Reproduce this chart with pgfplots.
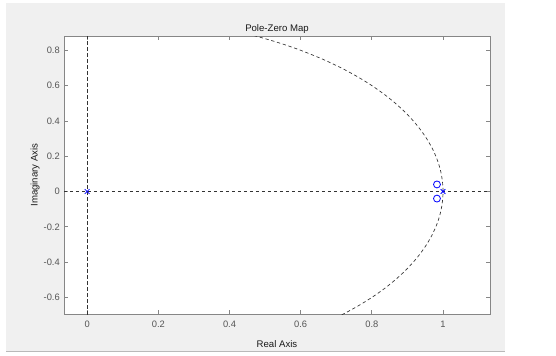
\documentclass[border=0pt]{standalone}
\usepackage{fontspec}
\setmainfont{Liberation Sans}
\usepackage{pgfplots}
\pgfplotsset{compat=1.18}
\definecolor{figbg}{RGB}{240,240,240}
\definecolor{axgray}{RGB}{134,134,134}
\definecolor{ticktext}{RGB}{85,85,85}
\definecolor{mblue}{RGB}{0,0,255}
\begin{document}
\begin{tikzpicture}
\begin{scope}[x=0.75pt,y=0.75pt]
\fill[white] (0,0) rectangle (556,355);
\fill[figbg] (6,3) rectangle (505,352);
\draw[gray!55, line width=0.6pt] (6,3.4)--(505,3.4);
\end{scope}
\begin{axis}[
  at={(48pt,30.75pt)}, anchor=south west,
  scale only axis, width=319.5pt, height=208.5pt,
  xmin=-0.065, xmax=1.132, ymin=-0.694, ymax=0.881,
  axis background/.style={fill=white},
  axis line style={axgray, line width=0.6pt},
  tick style={axgray, line width=0.6pt},
  major tick length=3pt,
  tick align=inside,
  xtick={0,0.2,0.4,0.6,0.8,1},
  xticklabels={0,0.2,0.4,0.6,0.8,1},
  ytick={-0.6,-0.4,-0.2,0,0.2,0.4,0.6,0.8},
  yticklabels={-0.6,-0.4,-0.2,0,0.2,0.4,0.6,0.8},
  ticklabel style={font=\fontsize{7}{8}\selectfont, text=ticktext, inner sep=0pt},
  xticklabel shift=4.9pt, yticklabel shift=3pt,
  clip=true,
]
\addplot[black!80, line width=0.5pt, dash pattern=on 2.5pt off 2pt] coordinates {(0,-0.8) (0,1)};
\addplot[black!80, line width=0.5pt, dash pattern=on 2.5pt off 2pt] coordinates {(-0.2,0) (1.2,0)};
\addplot[black!80, line width=0.5pt, dash pattern=on 2.5pt off 2pt, smooth] coordinates {
(0.4359,0.90) (0.4841,0.875) (0.5268,0.85) (0.5651,0.825) (0.6000,0.80) (0.6614,0.75)
(0.7141,0.70) (0.7599,0.65) (0.8000,0.60) (0.8352,0.55) (0.8660,0.50) (0.8930,0.45)
(0.9165,0.40) (0.9367,0.35) (0.9539,0.30) (0.9682,0.25) (0.9798,0.20) (0.9887,0.15)
(0.9950,0.10) (0.9987,0.05) (1.0000,0.00) (0.9987,-0.05) (0.9950,-0.10) (0.9887,-0.15)
(0.9798,-0.20) (0.9682,-0.25) (0.9539,-0.30) (0.9367,-0.35) (0.9165,-0.40) (0.8930,-0.45)
(0.8660,-0.50) (0.8352,-0.55) (0.8000,-0.60) (0.7599,-0.65) (0.7141,-0.70) (0.6614,-0.75)
};
\addplot[only marks, mark=x, mblue, mark size=2.5pt, mark options={line width=0.6pt}] coordinates {(0,0) (1,0)};
\addplot[only marks, mark=o, mblue, mark size=2.6pt, mark options={line width=0.6pt}] coordinates {(0.983,0.04) (0.983,-0.04)};
\end{axis}
\begin{scope}[x=0.75pt,y=0.75pt]
\node[anchor=base, inner sep=0pt, text=black!90, font=\fontsize{7.2}{8}\selectfont] at (277,324) {Pole-Zero Map};
\node[anchor=base, inner sep=0pt, text=black!90, font=\fontsize{7.2}{8}\selectfont] at (277,8) {Real Axis};
\node[anchor=base, inner sep=0pt, rotate=90, text=black!90, font=\fontsize{7.2}{8}\selectfont] at (37.5,180) {Imaginary Axis};
\end{scope}
\end{tikzpicture}
\end{document}
